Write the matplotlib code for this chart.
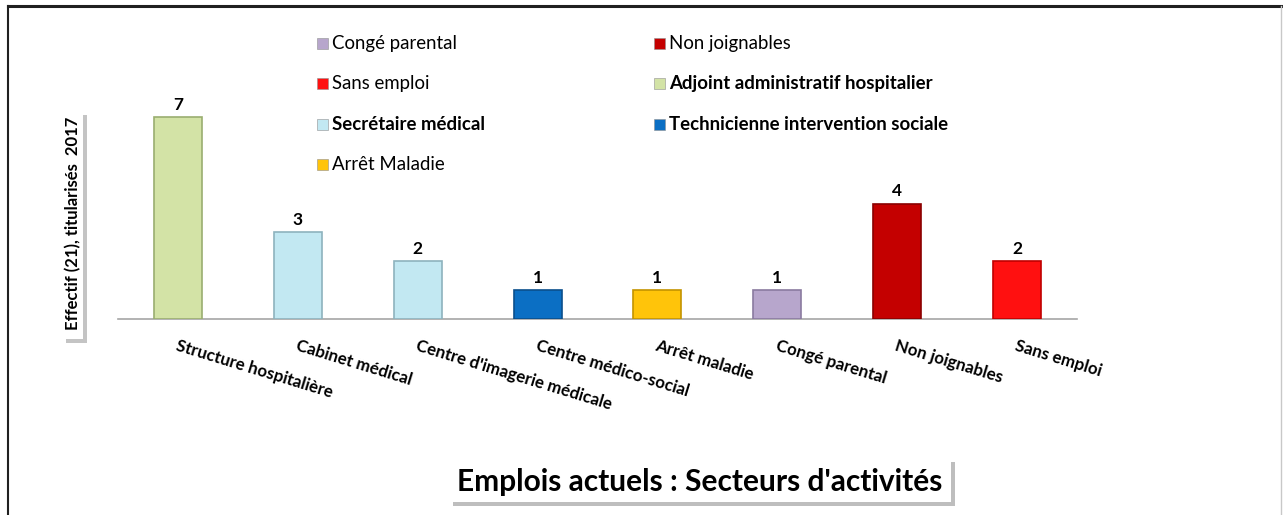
import matplotlib.pyplot as plt
from matplotlib.patches import Rectangle
from matplotlib.lines import Line2D
import numpy as np

plt.rcParams['font.family'] = ['Lato', 'DejaVu Sans']

categories = ["Structure hospitalière", "Cabinet médical", "Centre d'imagerie médicale",
              "Centre médico-social", "Arrêt maladie", "Congé parental",
              "Non joignables", "Sans emploi"]
values = [7, 3, 2, 1, 1, 1, 4, 2]
bar_colors = ['#D3E3A6', '#C2E8F2', '#C2E8F2', '#0B6FC4', '#FFC40A', '#B7A6CC', '#C40000', '#FF1010']
edge_colors = ['#9AAE70', '#8EB3BE', '#8EB3BE', '#0A4F8C', '#C49300', '#8A7AA0', '#8A0000', '#C00000']

legend_labels = ["Congé parental", "Non joignables", "Sans emploi",
                 "Adjoint administratif hospitalier", "Secrétaire médical",
                 "Technicienne intervention sociale", "Arrêt Maladie"]
legend_colors = ['#B7A6CC', '#C40000', '#FF1010', '#D3E3A6', '#C2E8F2', '#0B6FC4', '#FFC40A']
legend_bold = [False, False, False, True, True, True, False]

W, H = 1283, 515
fig = plt.figure(figsize=(W / 100, H / 100), dpi=100)

# chart area (pixel based layout)
x0, x1, yb = 118, 1077, 319
unit = 28.85
ymax = 10
ax = fig.add_axes([x0 / W, 1 - yb / H, (x1 - x0) / W, unit * ymax / H])

x = np.arange(len(categories))
ax.bar(x, values, width=0.4, color=bar_colors, edgecolor=edge_colors, linewidth=1.2, zorder=3)
for xi, v in zip(x, values):
    ax.text(xi, v + 0.15, str(v), ha='center', va='bottom', fontsize=12.5, fontweight='bold')

ax.set_xlim(-0.5, len(categories) - 0.5)
ax.set_ylim(0, ymax)
for s in ['top', 'right', 'left']:
    ax.spines[s].set_visible(False)
ax.spines['bottom'].set_color('#A6A6A6')
ax.spines['bottom'].set_linewidth(1.2)
ax.set_yticks([])
ax.set_xticks(x)
ax.set_xticklabels([])
ax.tick_params(axis='x', length=0)
ax.patch.set_alpha(0)

for xi, lab in zip(x, categories):
    ax.annotate(lab, xy=(xi, 0), xytext=(-1, -19), textcoords='offset points',
                ha='left', va='center', rotation=-17, rotation_mode='anchor',
                fontsize=12.2, fontweight='bold')

# legend drawn manually (Excel-like two columns)
for i, (lab, col, b) in enumerate(zip(legend_labels, legend_colors, legend_bold)):
    c, r = i % 2, i // 2
    lx = 317 + 337 * c
    ly = 43 + 40.5 * r
    fig.add_artist(Rectangle((lx / W, 1 - (ly + 5.5) / H), 11 / W, 11 / H,
                             transform=fig.transFigure, facecolor=col,
                             edgecolor='#909090', linewidth=0.4))
    fig.text((lx + 15) / W, 1 - ly / H, lab, ha='left', va='center', fontsize=13.4,
             fontweight='bold' if b else 'normal')

# y label in shadowed box
fig.add_artist(Rectangle((66 / W, 1 - 343 / H), 21 / W, 228 / H, transform=fig.transFigure,
                         facecolor='#C4C4C4', edgecolor='none', zorder=0))
fig.add_artist(Rectangle((62 / W, 1 - 339 / H), 21 / W, 228 / H, transform=fig.transFigure,
                         facecolor='white', edgecolor='none', zorder=1))
fig.text(73 / W, 1 - 223 / H, "Effectif (21), titularisés  2017", rotation=90,
         ha='center', va='center', fontsize=12, fontweight='bold', zorder=2)

# title in shadowed box
fig.add_artist(Rectangle((453 / W, 1 - 506 / H), 502 / W, 44 / H, transform=fig.transFigure,
                         facecolor='#BEBEBE', edgecolor='none', zorder=0))
fig.add_artist(Rectangle((449 / W, 1 - 502 / H), 502 / W, 44 / H, transform=fig.transFigure,
                         facecolor='white', edgecolor='none', zorder=1))
fig.text(700 / W, 1 - 482 / H, "Emplois actuels : Secteurs d'activités", ha='center',
         va='center', fontsize=21.5, fontweight='bold', zorder=2)

# outer frame
fig.add_artist(Line2D([8 / W, 1281 / W], [1 - 6 / H, 1 - 6 / H], transform=fig.transFigure,
                      color='#202020', linewidth=2.2))
fig.add_artist(Line2D([8 / W, 8 / W], [0, 1 - 6 / H], transform=fig.transFigure,
                      color='#202020', linewidth=1.5))
fig.add_artist(Line2D([1281 / W, 1281 / W], [0, 1 - 6 / H], transform=fig.transFigure,
                      color='#C8C8C8', linewidth=1))

fig.savefig('out.png', dpi=100, facecolor='white')
